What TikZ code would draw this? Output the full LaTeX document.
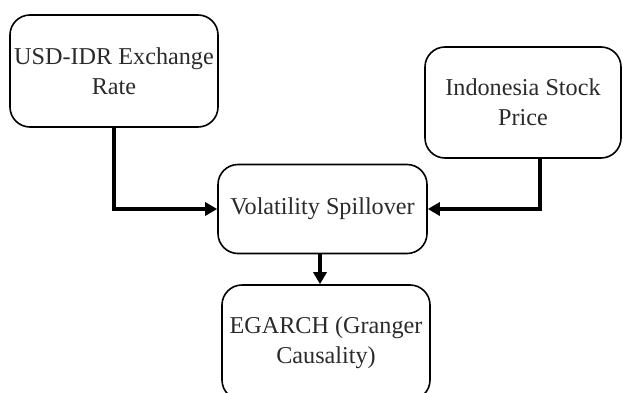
\documentclass[tikz,border=0pt]{standalone}
\usepackage{fontspec}
\setmainfont{Liberation Serif}
\usetikzlibrary{arrows.meta}
\definecolor{inkgray}{HTML}{2A2A2A}
\tikzset{
  flowbox/.style={draw=black, line width=1.6pt, rounded corners=20pt, align=center,
    inner sep=0pt, text=inkgray, font=\fontsize{24.2}{30}\selectfont},
  flowline/.style={line width=3.8pt, -{Triangle[length=12pt,width=13pt]}}
}
\begin{document}
\begin{tikzpicture}[x=1pt,y=1pt]
\useasboundingbox (0,0) rectangle (623,392);
\node[flowbox, minimum width=208pt, minimum height=112pt] (usd) at (114,321) {USD-IDR Exchange\\Rate};
\node[flowbox, minimum width=196pt, minimum height=111pt] (stock) at (523,289.5) {Indonesia Stock\\Price};
\node[flowbox, minimum width=209pt, minimum height=89pt] (vol) at (322.5,183) {Volatility Spillover};
\node[flowbox, minimum width=208pt, minimum height=115pt] (egarch) at (326,49.5) {EGARCH (Granger\\Causality)};
\draw[flowline] (usd.south) |- (vol.west);
\draw[flowline] ([xshift=17pt]stock.south) |- (vol.east);
\draw[flowline] ([xshift=-2.5pt]vol.south) -- ([xshift=-2.5pt]vol.south |- egarch.north);
\end{tikzpicture}
\end{document}
